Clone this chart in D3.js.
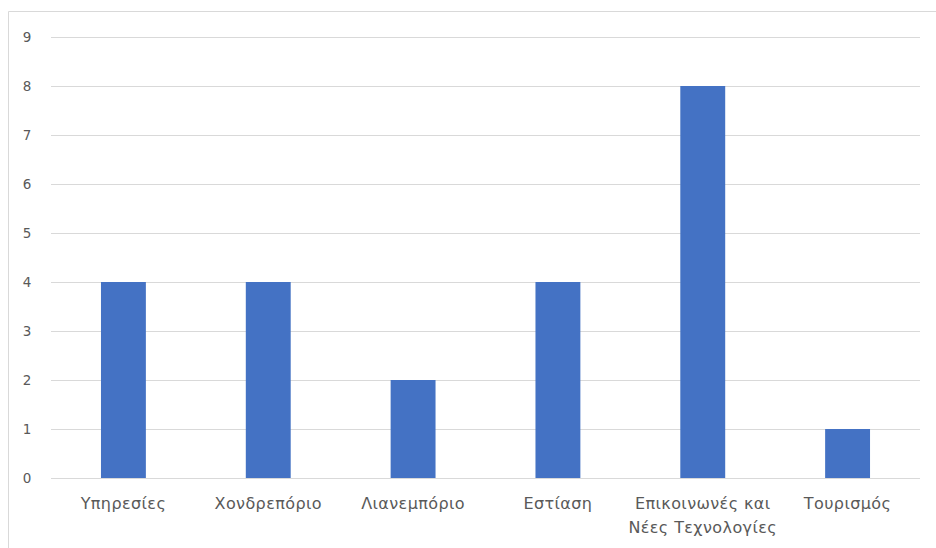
<!DOCTYPE html>
<html>
<head>
<meta charset="utf-8">
<script src="https://cdn.jsdelivr.net/npm/d3@7.9.0/dist/d3.min.js"></script>
<style>
  html, body { margin: 0; padding: 0; background: #fff; }
  svg { display: block; font-family: "DejaVu Sans", "Open Sans", sans-serif; }
</style>
</head>
<body>
<svg id="chart" width="936" height="548"></svg>
<script>
const categories = [
  ['Υπηρεσίες'],
  ['Χονδρεπόριο'],
  ['Λιανεμπόριο'],
  ['Εστίαση'],
  ['Επικοινωνές και', 'Νέες Τεχνολογίες'],
  ['Τουρισμός'],
];
const values = [4, 4, 2, 4, 8, 1];
const yTicks = [0, 1, 2, 3, 4, 5, 6, 7, 8, 9];

const svg = d3.select('#chart');

// chart frame (only top and left edges visible in the crop)
svg.append('path')
  .attr('d', 'M8.5,548 V11.5 H936')
  .attr('fill', 'none')
  .attr('stroke', '#d9d9d9');

const margin = { left: 51, right: 16, top: 37, bottom: 70 };
const width = 936 - margin.left - margin.right;
const height = 548 - margin.top - margin.bottom;

const g = svg.append('g').attr('transform', `translate(${margin.left},${margin.top})`);

const x = d3.scaleBand()
  .domain(d3.range(categories.length))
  .range([0, width]);

const y = d3.scaleLinear().domain([0, 9]).range([height, 0]);

// gridlines
g.append('g')
  .selectAll('line')
  .data(yTicks)
  .join('line')
  .attr('x1', 0)
  .attr('x2', width)
  .attr('y1', d => Math.round(y(d)) + 0.5)
  .attr('y2', d => Math.round(y(d)) + 0.5)
  .attr('stroke', '#d9d9d9')
  .attr('stroke-width', 1);

// y tick labels
g.append('g')
  .selectAll('text')
  .data(yTicks)
  .join('text')
  .attr('x', -24)
  .attr('y', d => y(d))
  .attr('dy', '0.36em')
  .attr('text-anchor', 'middle')
  .attr('font-size', 13.5)
  .attr('fill', '#595959')
  .text(d => d);

// bars
const barW = x.bandwidth() * 0.31;
g.append('g')
  .selectAll('rect')
  .data(values)
  .join('rect')
  .attr('x', (d, i) => x(i) + x.bandwidth() / 2 - barW / 2)
  .attr('y', d => y(d))
  .attr('width', barW)
  .attr('height', d => y(0) - y(d))
  .attr('fill', '#4472c4');

// category labels
const labels = g.append('g')
  .selectAll('text')
  .data(categories)
  .join('text')
  .attr('x', (d, i) => x(i) + x.bandwidth() / 2)
  .attr('y', height + 31)
  .attr('text-anchor', 'middle')
  .attr('font-size', 16)
  .attr('letter-spacing', 0.4)
  .attr('fill', '#595959');

labels.selectAll('tspan')
  .data(d => d)
  .join('tspan')
  .attr('x', function () { return d3.select(this.parentNode).attr('x'); })
  .attr('dy', (d, i) => i === 0 ? 0 : 23.5)
  .text(d => d);
</script>
</body>
</html>
